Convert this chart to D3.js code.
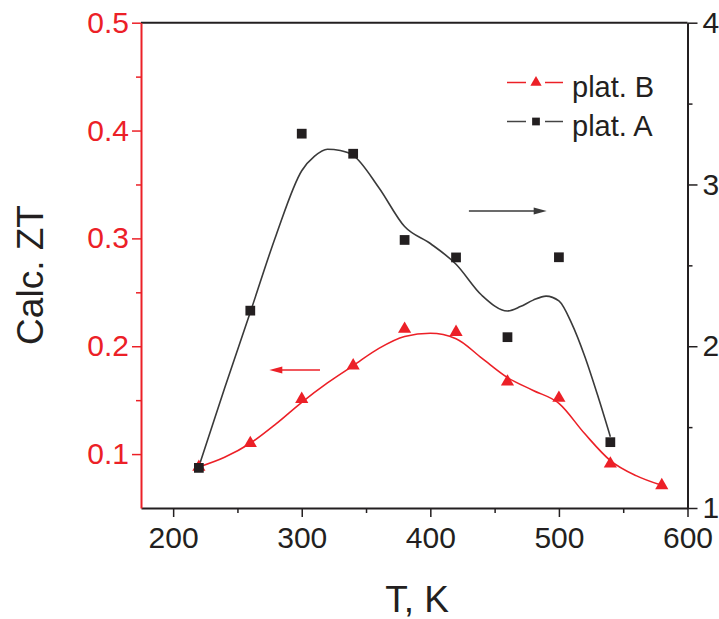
<!DOCTYPE html>
<html>
<head>
<meta charset="utf-8">
<script src="https://cdn.jsdelivr.net/npm/d3@7"></script>
<style>
  html, body { margin: 0; padding: 0; background: #fff; }
  svg { display: block; font-family: "Liberation Sans", Arial, sans-serif; }
</style>
</head>
<body>
<svg id="chart" width="719" height="619"></svg>
<script>
// ---------- data ----------
const tempB = [220, 260, 300, 340, 380, 420, 460, 500, 540, 580];
const ztB   = [0.088, 0.110, 0.151, 0.182, 0.216, 0.213, 0.167, 0.152, 0.091, 0.071];

const tempA = [220, 260, 300, 340, 380, 420, 460, 500, 540];
const valA  = [1.248, 2.22, 3.314, 3.19, 2.657, 2.549, 2.056, 2.55, 1.407];

// smoothed fit curves
const fitTempA = [220, 240, 260, 280, 300, 310, 320, 330, 340, 360, 380, 400, 420, 440, 460, 470, 480, 490, 500, 510, 520, 530, 540];
const fitValA  = [1.256, 1.74, 2.21, 2.685, 3.085, 3.175, 3.218, 3.21, 3.18, 2.98, 2.74, 2.635, 2.507, 2.315, 2.218, 2.245, 2.285, 2.31, 2.28, 2.14, 1.94, 1.70, 1.441];

const fitTempB = [220, 240, 260, 280, 300, 320, 340, 360, 380, 400, 420, 440, 460, 480, 500, 520, 540, 560, 580];
const fitValB  = [0.088, 0.097, 0.110, 0.128, 0.148, 0.166, 0.182, 0.198, 0.209, 0.212, 0.207, 0.189, 0.171, 0.159, 0.147, 0.119, 0.094, 0.080, 0.071];

const xTicks = [200, 300, 400, 500, 600];
const xMinor = [250, 350, 450, 550];
const yLeftTicks = [0.1, 0.2, 0.3, 0.4, 0.5];
const yLeftMinor = [0.15, 0.25, 0.35, 0.45];
const yRightTicks = [1, 2, 3, 4];
const yRightMinor = [1.5, 2.5, 3.5];

const seriesNames = ["plat. B", "plat. A"];

// ---------- layout ----------
const RED = "#ec2027";
const INK = "#231f20";
const mLeft = 141, mRight = 687.5, mTop = 22.7, mBottom = 508;

const svg = d3.select("#chart");
const x = d3.scaleLinear().domain([175, 600]).range([mLeft, mRight]);
const yL = d3.scaleLinear().domain([0.05, 0.5]).range([mBottom, mTop]);
const yR = d3.scaleLinear().domain([1, 4]).range([mBottom, mTop]);

// ---------- axes ----------
function styleAxis(g, color, fontSize) {
  g.selectAll("path.domain").attr("stroke", color).attr("stroke-width", 2);
  g.selectAll(".tick line").attr("stroke", color).attr("stroke-width", 1.5);
  g.selectAll(".tick text").attr("fill", color).style("font-size", fontSize + "px")
    .style("font-family", '"Liberation Sans", Arial, sans-serif');
}

// bottom
const gx = svg.append("g").attr("transform", `translate(0,${mBottom})`)
  .call(d3.axisBottom(x).tickValues(xTicks).tickSize(9).tickPadding(10).tickSizeOuter(0).tickFormat(d3.format("d")));
styleAxis(gx, INK, 30);
svg.append("g").attr("transform", `translate(0,${mBottom})`)
  .call(d3.axisBottom(x).tickValues(xMinor).tickSize(5).tickFormat("").tickSizeOuter(0))
  .call(g => { g.select("path.domain").remove(); g.selectAll("line").attr("stroke", INK).attr("stroke-width", 1.5); });

// top
svg.append("line").attr("x1", mLeft).attr("x2", mRight).attr("y1", mTop).attr("y2", mTop)
  .attr("stroke", INK).attr("stroke-width", 2);

// right
const gr = svg.append("g").attr("transform", `translate(${mRight},0)`)
  .call(d3.axisRight(yR).tickValues(yRightTicks).tickSize(10).tickPadding(5).tickSizeOuter(0).tickFormat(d3.format("d")));
styleAxis(gr, INK, 30);
svg.append("g").attr("transform", `translate(${mRight},0)`)
  .call(d3.axisRight(yR).tickValues(yRightMinor).tickSize(5).tickFormat("").tickSizeOuter(0))
  .call(g => { g.select("path.domain").remove(); g.selectAll("line").attr("stroke", INK).attr("stroke-width", 1.5); });

// left
const gl = svg.append("g").attr("transform", `translate(${mLeft},0)`)
  .call(d3.axisLeft(yL).tickValues(yLeftTicks).tickSize(9).tickPadding(3).tickSizeOuter(0).tickFormat(d3.format(".1f")));
styleAxis(gl, RED, 30);
svg.append("g").attr("transform", `translate(${mLeft},0)`)
  .call(d3.axisLeft(yL).tickValues(yLeftMinor).tickSize(5).tickFormat("").tickSizeOuter(0))
  .call(g => { g.select("path.domain").remove(); g.selectAll("line").attr("stroke", RED).attr("stroke-width", 1.5); });

// axis titles
svg.append("text").attr("x", 417).attr("y", 612).attr("text-anchor", "middle")
  .attr("fill", INK).style("font-size", "37px").text("T, K");
svg.append("text").attr("transform", "translate(43,275) rotate(-90)").attr("text-anchor", "middle")
  .attr("fill", INK).style("font-size", "37px").text("Calc. ZT");

// ---------- curves ----------
const fitA = fitTempA.map((t, i) => [t, fitValA[i]]);
const fitB = fitTempB.map((t, i) => [t, fitValB[i]]);

svg.append("path").datum(fitA)
  .attr("d", d3.line().x(d => x(d[0])).y(d => yR(d[1])).curve(d3.curveMonotoneX))
  .attr("fill", "none").attr("stroke", "#3a3a3a").attr("stroke-width", 1.6);

svg.append("path").datum(fitB)
  .attr("d", d3.line().x(d => x(d[0])).y(d => yL(d[1])).curve(d3.curveMonotoneX))
  .attr("fill", "none").attr("stroke", RED).attr("stroke-width", 1.6);

// ---------- markers ----------
const tri = d3.symbol().type(d3.symbolTriangle).size(75);
const sq = d3.symbol().type(d3.symbolSquare).size(95);

svg.append("g").selectAll("path").data(tempB.map((t, i) => [t, ztB[i]])).join("path")
  .attr("d", tri).attr("transform", d => `translate(${x(d[0])},${yL(d[1])})`).attr("fill", RED);

svg.append("g").selectAll("path").data(tempA.map((t, i) => [t, valA[i]])).join("path")
  .attr("d", sq).attr("transform", d => `translate(${x(d[0])},${yR(d[1])})`).attr("fill", INK);

// ---------- arrows ----------
function arrow(x1, x2, yy, color) {
  const dir = Math.sign(x2 - x1);
  svg.append("line").attr("x1", x1).attr("x2", x2 - dir * 10).attr("y1", yy).attr("y2", yy)
    .attr("stroke", color).attr("stroke-width", 1.6);
  svg.append("path")
    .attr("d", `M${x2},${yy} L${x2 - dir * 13},${yy - 3.5} L${x2 - dir * 13},${yy + 3.5} Z`)
    .attr("fill", color);
}
arrow(x(430), x(490.5), yR(2.836), "#3a3a3a");
arrow(x(314.2), x(274.8), yL(0.178), RED);

// ---------- legend ----------
const legend = [
  { name: seriesNames[0], color: RED, fill: RED, sym: d3.symbol().type(d3.symbolTriangle).size(55), y: 82.5 },
  { name: seriesNames[1], color: "#444", fill: INK, sym: d3.symbol().type(d3.symbolSquare).size(60), y: 121.5 }
];
legend.forEach(l => {
  const g = svg.append("g");
  g.append("line").attr("x1", 507).attr("x2", 526).attr("y1", l.y).attr("y2", l.y).attr("stroke", l.color).attr("stroke-width", 1.5);
  g.append("line").attr("x1", 545).attr("x2", 563).attr("y1", l.y).attr("y2", l.y).attr("stroke", l.color).attr("stroke-width", 1.5);
  g.append("path").attr("d", l.sym).attr("transform", `translate(536,${l.y})`).attr("fill", l.fill);
  g.append("text").attr("x", 572).attr("y", l.y + 5).attr("dy", "0.32em").attr("fill", INK)
    .style("font-size", "29px").text(l.name);
});
</script>
</body>
</html>
